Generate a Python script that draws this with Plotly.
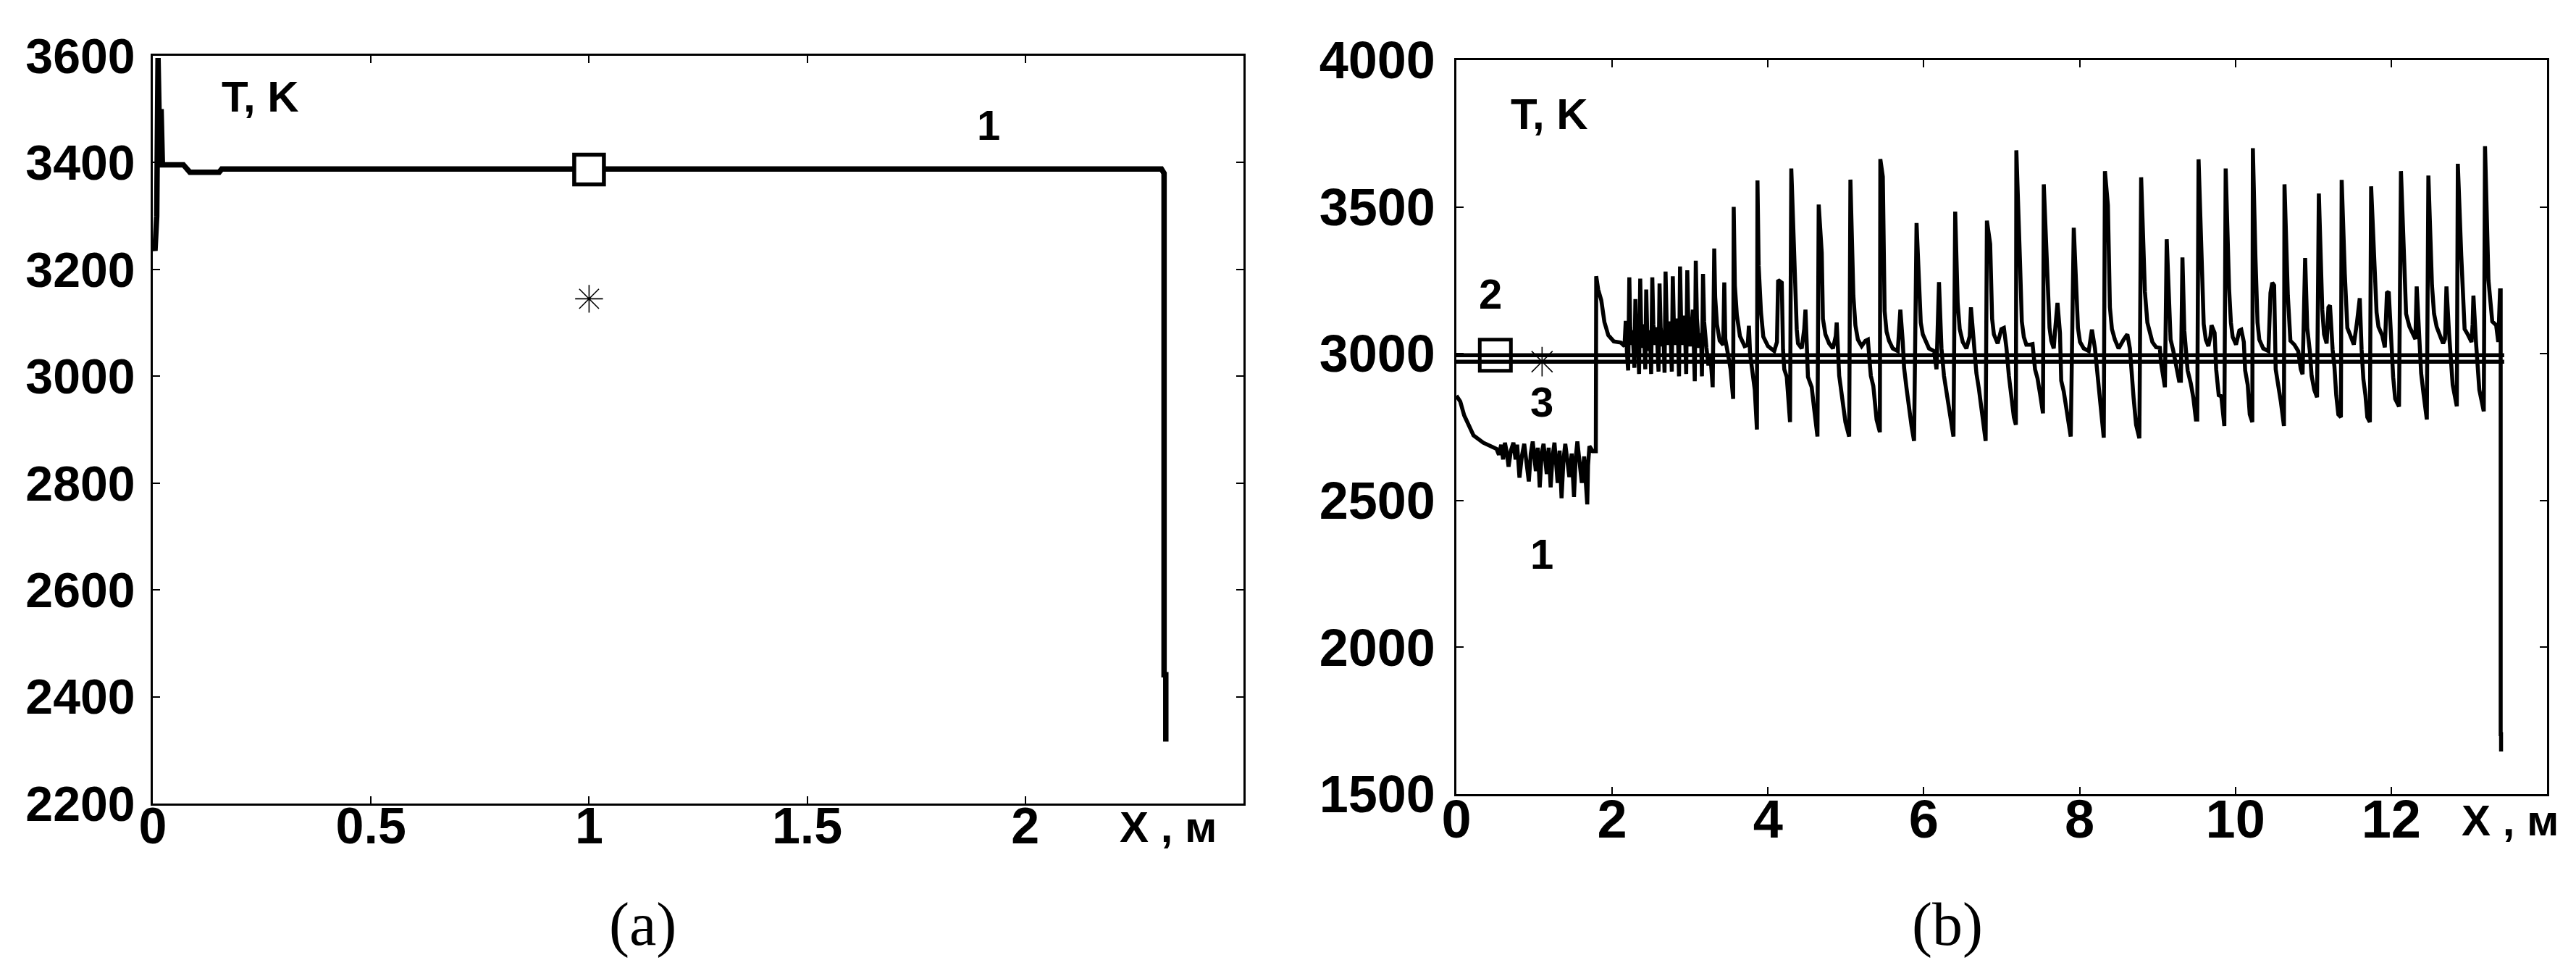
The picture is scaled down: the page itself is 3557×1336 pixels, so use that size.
import plotly.graph_objects as go

# ---------------- data: panel (a) ----------------
a_curve1 = [(0.0, 3255), (0.005, 3235), (0.009, 3300), (0.012, 3596), (0.016, 3420), (0.019, 3500),
            (0.022, 3396), (0.070, 3396), (0.085, 3382), (0.152, 3382), (0.158, 3388), (2.312, 3388),
            (2.318, 3380), (2.318, 2441), (2.322, 2441), (2.322, 2316)]
a_square_x = [1.0]
a_square_T = [3387]
a_star_x = [1.0]
a_star_T = [3145]
a_xticks = [0, 0.5, 1, 1.5, 2]
a_xticktext = ["0", "0.5", "1", "1.5", "2"]
a_yticks = [2200, 2400, 2600, 2800, 3000, 3200, 3400, 3600]

# ---------------- data: panel (b) ----------------
b1_start = [(0.0, 2857), (0.05, 2837), (0.10, 2790), (0.143, 2763), (0.22, 2722), (0.344, 2697), (0.45, 2684),
            (0.515, 2676), (0.546, 2656), (0.575, 2690), (0.60, 2640), (0.623, 2697), (0.65, 2660), (0.67, 2615),
            (0.70, 2670), (0.732, 2697), (0.76, 2640), (0.78, 2690), (0.81, 2578), (0.84, 2650), (0.871, 2693),
            (0.90, 2620), (0.93, 2565), (0.955, 2660), (0.98, 2701), (1.02, 2600), (1.045, 2680), (1.07, 2545),
            (1.095, 2660), (1.119, 2693), (1.16, 2590), (1.185, 2680), (1.21, 2545), (1.235, 2650), (1.259, 2697),
            (1.30, 2560), (1.325, 2670), (1.35, 2508), (1.375, 2640), (1.398, 2693), (1.45, 2580), (1.48, 2660),
            (1.51, 2512), (1.53, 2640), (1.553, 2701), (1.61, 2560), (1.64, 2650), (1.68, 2487), (1.69, 2620),
            (1.708, 2685), (1.75, 2668), (1.79, 2668), (1.795, 3264), (1.82, 3219), (1.86, 3182), (1.90, 3108),
            (1.95, 3063), (2.02, 3042), (2.11, 3038), (2.158, 3026)]
b1_dense = [(2.174, 3112), (2.190, 3000), (2.205, 2943), (2.220, 3260), (2.232, 3090), (2.250, 3030), (2.262, 3080),
            (2.285, 2952), (2.298, 3186), (2.310, 3060), (2.322, 3136), (2.345, 2931), (2.360, 3256), (2.372, 3090),
            (2.392, 3020), (2.405, 3100), (2.425, 2947), (2.437, 3219), (2.450, 3070), (2.470, 3010), (2.485, 3080),
            (2.500, 2931), (2.515, 3260), (2.528, 3100), (2.550, 3030), (2.570, 3090), (2.595, 2939), (2.608, 3239),
            (2.622, 3090), (2.645, 3025), (2.658, 3080), (2.672, 2935), (2.685, 3280), (2.700, 3100), (2.725, 3030),
            (2.745, 3110), (2.765, 2939), (2.778, 3264), (2.792, 3100), (2.815, 3030), (2.838, 3120), (2.858, 2923),
            (2.871, 3297), (2.885, 3110), (2.910, 3030), (2.930, 3130), (2.950, 2931), (2.964, 3284), (2.978, 3110),
            (3.005, 3025), (3.035, 3150), (3.060, 2906), (3.073, 3317), (3.088, 3120), (3.115, 3020), (3.140, 3070),
            (3.152, 2923), (3.166, 3272), (3.180, 3110), (3.210, 3020), (3.235, 2960), (3.260, 3000), (3.290, 2886)]
b1_cycles = [
    (3.31, 3358),
    (3.322, 3193), (3.345, 3100), (3.38, 3045), (3.425, 3030), (3.439, 3243), (3.452, 3050), (3.49, 2990), (3.52, 2947), (3.553, 2846),
    (3.56, 3500),
    (3.575, 3231), (3.60, 3132), (3.64, 3060), (3.70, 3026), (3.74, 3030), (3.755, 3095), (3.77, 3000), (3.80, 2943), (3.83, 2878), (3.858, 2742),
    (3.865, 3590),
    (3.88, 3300), (3.91, 3141), (3.94, 3058), (4.00, 3026), (4.08, 3009), (4.115, 3040), (4.13, 3251), (4.177, 3242), (4.193, 3013), (4.209, 2947), (4.241, 2921), (4.257, 2855), (4.283, 2767),
    (4.299, 3631),
    (4.347, 3198), (4.369, 3084), (4.385, 3035), (4.433, 3018), (4.465, 3084), (4.481, 3150), (4.513, 2921), (4.561, 2886), (4.593, 2811), (4.635, 2718),
    (4.651, 3508),
    (4.69, 3343), (4.705, 3119), (4.737, 3066), (4.785, 3035), (4.834, 3018), (4.870, 3060), (4.882, 3106), (4.914, 2925), (4.946, 2859), (4.994, 2767), (5.042, 2718),
    (5.058, 3593),
    (5.096, 3198), (5.122, 3097), (5.154, 3048), (5.202, 3026), (5.25, 3044), (5.282, 3048), (5.32, 2925), (5.352, 2890), (5.394, 2775), (5.436, 2733),
    (5.442, 3663),
    (5.474, 3603), (5.497, 3145), (5.522, 3075), (5.554, 3044), (5.602, 3018), (5.666, 3009), (5.699, 3150), (5.73, 3040), (5.747, 2952), (5.779, 2881), (5.81, 2811), (5.843, 2753), (5.875, 2703),
    (5.907, 3445),
    (5.939, 3242), (5.961, 3106), (5.987, 3066), (6.025, 3040), (6.067, 3018), (6.131, 3009), (6.163, 2947), (6.195, 3244), (6.227, 3018), (6.259, 2925), (6.291, 2868), (6.323, 2811), (6.381, 2718),
    (6.403, 3484),
    (6.435, 3172), (6.461, 3084), (6.5, 3040), (6.547, 3018), (6.59, 3060), (6.605, 3158), (6.643, 3018), (6.675, 2934), (6.707, 2881), (6.739, 2811), (6.794, 2703),
    (6.81, 3453),
    (6.852, 3374), (6.877, 3119), (6.9, 3066), (6.948, 3035), (6.996, 3084), (7.028, 3088), (7.06, 3022), (7.092, 2925), (7.124, 2855), (7.156, 2784), (7.182, 2758),
    (7.188, 3693),
    (7.236, 3304), (7.258, 3110), (7.284, 3057), (7.316, 3031), (7.364, 3031), (7.396, 3033), (7.428, 2947), (7.46, 2916), (7.492, 2864), (7.53, 2797),
    (7.54, 3577),
    (7.588, 3273), (7.614, 3088), (7.636, 3044), (7.668, 3018), (7.684, 3075), (7.716, 3173), (7.748, 3071), (7.764, 2908), (7.796, 2872), (7.828, 2820), (7.886, 2718),
    (7.925, 3429),
    (7.957, 3180), (7.979, 3088), (8.005, 3040), (8.053, 3018), (8.117, 3009), (8.158, 3082), (8.197, 3018), (8.222, 2947), (8.245, 2899), (8.277, 2811), (8.31, 2714),
    (8.325, 3622),
    (8.363, 3506), (8.389, 3158), (8.415, 3084), (8.453, 3048), (8.501, 3018), (8.565, 3048), (8.613, 3066), (8.645, 3018), (8.668, 2912), (8.693, 2850), (8.725, 2758), (8.767, 2712),
    (8.79, 3601),
    (8.838, 3211), (8.87, 3106), (8.902, 3066), (8.934, 3040), (8.982, 3022), (9.03, 3020), (9.045, 2969), (9.078, 2899), (9.095, 2886),
    (9.118, 3390),
    (9.145, 3238), (9.168, 3048), (9.2, 3013), (9.234, 2965), (9.277, 2908), (9.30, 2908),
    (9.32, 3328),
    (9.344, 3079), (9.387, 2943), (9.427, 2899), (9.46, 2850), (9.493, 2776), (9.51, 2776),
    (9.527, 3662),
    (9.566, 3304), (9.593, 3101), (9.62, 3048), (9.653, 3026), (9.68, 3060), (9.693, 3097), (9.733, 3071), (9.753, 2947), (9.786, 2859), (9.819, 2855), (9.858, 2754),
    (9.875, 3631),
    (9.919, 3220), (9.942, 3106), (9.965, 3057), (10.008, 3031), (10.051, 3079), (10.075, 3082), (10.108, 3040), (10.125, 2943), (10.158, 2894), (10.184, 2793), (10.217, 2767),
    (10.224, 3700),
    (10.257, 3330), (10.284, 3106), (10.307, 3048), (10.357, 3018), (10.424, 3009), (10.45, 3207), (10.473, 3242), (10.497, 3233), (10.517, 2947), (10.55, 2899), (10.583, 2837), (10.623, 2754),
    (10.63, 3577),
    (10.673, 3198), (10.706, 3044), (10.756, 3031), (10.806, 3009), (10.839, 2947), (10.862, 2930),
    (10.895, 3326),
    (10.922, 3088), (10.955, 3009), (10.978, 2925), (11.012, 2877), (11.048, 2852),
    (11.071, 3546),
    (11.115, 3150), (11.138, 3066), (11.171, 3035), (11.194, 3158), (11.214, 3165), (11.248, 3013), (11.271, 2956), (11.294, 2859), (11.321, 2793), (11.354, 2784),
    (11.364, 3592),
    (11.404, 3273), (11.437, 3088), (11.47, 3066), (11.52, 3031), (11.56, 3106), (11.596, 3189), (11.62, 3013), (11.643, 2912), (11.669, 2859), (11.693, 2784), (11.726, 2767),
    (11.742, 3570),
    (11.786, 3299), (11.812, 3141), (11.836, 3092), (11.885, 3062), (11.918, 3022), (11.945, 3207), (11.968, 3211), (12.002, 3018), (12.025, 2921), (12.051, 2846), (12.1, 2820),
    (12.125, 3622),
    (12.168, 3238), (12.191, 3136), (12.234, 3092), (12.284, 3062), (12.31, 3050), (12.327, 3229), (12.367, 3048), (12.384, 2934), (12.417, 2859), (12.457, 2776),
    (12.477, 3607),
    (12.523, 3233), (12.55, 3136), (12.583, 3092), (12.633, 3057), (12.666, 3035), (12.69, 3050), (12.709, 3229), (12.742, 3071), (12.766, 2947), (12.789, 2894), (12.842, 2821),
    (12.855, 3647),
    (12.899, 3335), (12.922, 3207), (12.942, 3084), (12.982, 3066), (13.031, 3040), (13.045, 3100), (13.055, 3198), (13.088, 3040), (13.108, 2934), (13.131, 2877), (13.188, 2804),
    (13.204, 3707),
    (13.248, 3251), (13.274, 3150), (13.297, 3110), (13.347, 3097), (13.374, 3040), (13.397, 3216), (13.405, 3216),
    (13.405, 1704), (13.41, 1704), (13.41, 1645)]
b_line2_x = [0.0, 13.45]
b_line2_T = [2995, 2995]
b_line3_x = [0.0, 13.45]
b_line3_T = [2973, 2973]
b_square_x = [0.5]
b_square_T = [2995]
b_star_x = [1.1]
b_star_T = [2973]
b_xticks = [0, 2, 4, 6, 8, 10, 12]
b_yticks = [1500, 2000, 2500, 3000, 3500, 4000]

# ---------------- figure ----------------
W, H = 3557, 1336
TICKFONT = "Liberation Sans Narrow, Arial Narrow, Liberation Sans, Arial, sans-serif"
LABFONT = "Liberation Sans, Arial, sans-serif"
SERIF = "Liberation Serif, Times New Roman, serif"

fig = go.Figure()

a_all = a_curve1
fig.add_trace(go.Scatter(x=[p[0] for p in a_all], y=[p[1] for p in a_all], mode="lines",
                         line=dict(color="black", width=7.5), xaxis="x", yaxis="y"))
fig.add_trace(go.Scatter(x=a_square_x, y=a_square_T, mode="markers", xaxis="x", yaxis="y",
                         marker=dict(symbol="square", size=41, color="white",
                                     line=dict(color="black", width=5.5))))
fig.add_trace(go.Scatter(x=a_star_x, y=a_star_T, mode="markers", xaxis="x", yaxis="y",
                         marker=dict(symbol="asterisk-open", size=32, color="black",
                                     line=dict(color="black", width=1.6))))

b_all = b1_start + b1_dense + b1_cycles
fig.add_trace(go.Scatter(x=b_line2_x, y=b_line2_T, mode="lines", line=dict(color="black", width=5.5),
                         xaxis="x2", yaxis="y2"))
fig.add_trace(go.Scatter(x=b_line3_x, y=b_line3_T, mode="lines", line=dict(color="black", width=5.5),
                         xaxis="x2", yaxis="y2"))
fig.add_trace(go.Scatter(x=[p[0] for p in b_all], y=[p[1] for p in b_all], mode="lines",
                         line=dict(color="black", width=5.5), xaxis="x2", yaxis="y2"))
fig.add_trace(go.Scatter(x=b_square_x, y=b_square_T, mode="markers", xaxis="x2", yaxis="y2",
                         marker=dict(symbol="square-open", size=43, color="black",
                                     line=dict(color="black", width=5))))
fig.add_trace(go.Scatter(x=b_star_x, y=b_star_T, mode="markers", xaxis="x2", yaxis="y2",
                         marker=dict(symbol="asterisk-open", size=34, color="black",
                                     line=dict(color="black", width=1.6))))

axis_common = dict(showline=True, linewidth=2.5, linecolor="black", mirror="ticks", ticks="inside",
                   ticklen=10, tickwidth=2, tickcolor="black", showgrid=False, zeroline=False,
                   automargin=False)

fig.update_layout(
    template="none",
    width=W, height=H, margin=dict(l=0, r=0, t=0, b=0, pad=0), autosize=False,
    paper_bgcolor="white", plot_bgcolor="white", showlegend=False,
    xaxis=dict(domain=[203 / W, 1709 / W], range=[0, 2.5], tickvals=a_xticks, ticktext=a_xticktext,
               anchor="y", ticklabelstandoff=-32,
               tickfont=dict(family=TICKFONT, size=70, color="black", weight="bold"), **axis_common),
    yaxis=dict(domain=[1 - 1101 / H, 1 - 69 / H], range=[2200, 3600], tickvals=a_yticks,
               anchor="x", ticklabelstandoff=8,
               tickfont=dict(family=TICKFONT, size=68, color="black", weight="bold"), **axis_common),
    xaxis2=dict(domain=[2003 / W, 3509 / W], range=[0, 14], tickvals=b_xticks,
                anchor="y2", ticklabelstandoff=-32,
                tickfont=dict(family=TICKFONT, size=74, color="black", weight="bold"), **axis_common),
    yaxis2=dict(domain=[1 - 1088 / H, 1 - 75 / H], range=[1500, 4000], tickvals=b_yticks,
                anchor="x2", ticklabelstandoff=12,
                tickfont=dict(family=TICKFONT, size=72, color="black", weight="bold"), **axis_common),
)

lab = dict(family=LABFONT, size=60, color="black", weight="bold")
num = dict(family=LABFONT, size=58, color="black", weight="bold")
ann = [
    dict(text="T, K", x=0.247, y=3524, xref="x", yref="y", font=lab),
    dict(text="1", x=1.915, y=3471, xref="x", yref="y", font=num),
    dict(text="X , м", x=1605 / W, y=1 - 1133 / H, xref="paper", yref="paper", font=lab),
    dict(text="T, K", x=1.19, y=3815, xref="x2", yref="y2", font=lab),
    dict(text="2", x=0.44, y=3205, xref="x2", yref="y2", font=num),
    dict(text="3", x=1.10, y=2836, xref="x2", yref="y2", font=num),
    dict(text="1", x=1.10, y=2318, xref="x2", yref="y2", font=num),
    dict(text="X , м", x=3458 / W, y=1 - 1124 / H, xref="paper", yref="paper", font=lab),
    dict(text="(a)", x=879 / W, y=1 - 1268 / H, xref="paper", yref="paper",
         font=dict(family=SERIF, size=84, color="black")),
    dict(text="(b)", x=2681 / W, y=1 - 1268 / H, xref="paper", yref="paper",
         font=dict(family=SERIF, size=84, color="black")),
]
for a in ann:
    a.update(showarrow=False, xanchor="center", yanchor="middle")
fig.update_layout(annotations=ann)

fig.write_html("out.html")
